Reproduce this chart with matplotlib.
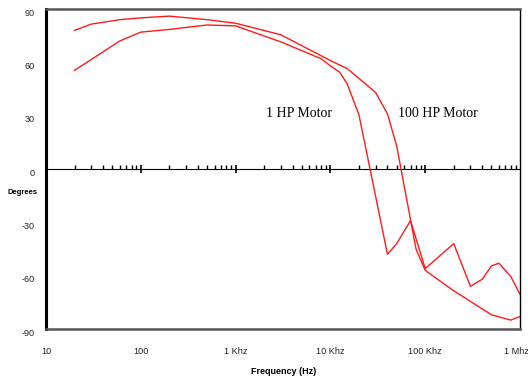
import matplotlib
matplotlib.use("Agg")
import matplotlib.pyplot as plt
import matplotlib.transforms as mtransforms
from matplotlib.ticker import FixedLocator, LogLocator, NullFormatter

# 1 HP motor phase (degrees) vs frequency (Hz)
freq_1hp = [20, 60, 100, 200, 500, 1000, 3000, 8000, 10000, 12500, 15000, 20000,
            40000, 50000, 70000, 100000, 200000, 300000, 400000, 500000, 600000,
            800000, 1000000]
deg_1hp = [55.5, 72, 77, 78.5, 81, 80.5, 71.5, 62, 58, 54.5, 48, 30.5,
           -48, -42, -29, -56, -42, -66, -62, -54.5, -53, -60.5, -70.5]

# 100 HP motor phase (degrees) vs frequency (Hz)
freq_100hp = [20, 30, 60, 100, 200, 500, 1000, 3000, 10000, 15000, 20000, 30000,
              40000, 50000, 80000, 100000, 200000, 500000, 800000, 1000000]
deg_100hp = [78, 81.5, 84, 85, 86, 84, 82, 75.5, 61, 56.5, 51, 43,
             31, 13, -45, -57, -68.5, -82, -85, -83]

x_ticks = [10, 100, 1000, 10000, 100000, 1000000]
x_labels = ["10", "100", "1 Khz", "10 Khz", "100 Khz", "1 Mhz"]
y_ticks = [-90, -60, -30, 0, 30, 60, 90]

plt.rcParams['font.family'] = ['Liberation Sans', 'DejaVu Sans']

fig = plt.figure(figsize=(5.28, 3.79), dpi=100)
ax = fig.add_axes([46/528, 50/379, 474/528, 320/379])

ax.plot(freq_1hp, deg_1hp, color="#ff1a1a", lw=1.0)
ax.plot(freq_100hp, deg_100hp, color="#ff1a1a", lw=1.0)

ax.set_xscale("log")
ax.set_xlim(10, 1e6)
ax.set_ylim(-90, 90)

ax.xaxis.set_major_locator(FixedLocator(x_ticks))
ax.set_xticklabels(x_labels)
ax.xaxis.set_minor_locator(LogLocator(base=10, subs=range(2, 10)))
ax.xaxis.set_minor_formatter(NullFormatter())
ax.tick_params(axis="x", which="both", length=0, pad=13, labelsize=6.6, colors="#222222")
# last label sits a bit inside the figure edge
xl = ax.get_xticklabels()
xl[-1].set_transform(xl[-1].get_transform()
                     + mtransforms.ScaledTranslation(-4/100, 0, fig.dpi_scale_trans))

ax.set_yticks(y_ticks)
ax.set_yticklabels([str(v) for v in y_ticks])
ax.tick_params(axis="y", length=0, pad=8, labelsize=6.6, colors="#222222")
shift = mtransforms.ScaledTranslation(0, -3/100, fig.dpi_scale_trans)
for lab in ax.get_yticklabels():
    lab.set_transform(lab.get_transform() + shift)

ax.spines["left"].set_linewidth(2.2)
ax.spines["left"].set_color("black")
ax.spines["right"].set_linewidth(1.0)
ax.spines["right"].set_color("black")
ax.spines["top"].set_linewidth(1.8)
ax.spines["top"].set_color("#555555")
ax.spines["bottom"].set_linewidth(1.8)
ax.spines["bottom"].set_color("#555555")

# zero line with tick marks
sec = ax.secondary_xaxis(0.5)
sec.spines["bottom"].set_linewidth(1.5)
sec.spines["bottom"].set_color("#555555")
sec.xaxis.set_major_locator(FixedLocator(x_ticks[1:-1]))
sec.xaxis.set_minor_locator(LogLocator(base=10, subs=range(2, 10)))
sec.xaxis.set_major_formatter(NullFormatter())
sec.xaxis.set_minor_formatter(NullFormatter())
sec.tick_params(which="major", direction="inout", length=6, width=1.2, color="black")
sec.tick_params(which="minor", direction="out", length=3, width=1.0, color="black")

ax.text(4700, 31, "1 HP Motor", family="Liberation Serif", fontsize=10,
        ha="center", va="center")
ax.text(136000, 31, "100 HP Motor", family="Liberation Serif", fontsize=10,
        ha="center", va="center")

fig.text(23/528, 1 - 193/379, "Degrees", fontsize=5.5, fontweight="bold",
         ha="center", va="center")
fig.text(284/528, 1 - 371/379, "Frequency (Hz)", fontsize=6.5, fontweight="bold",
         ha="center", va="center")

fig.savefig("out.png", dpi=100)
